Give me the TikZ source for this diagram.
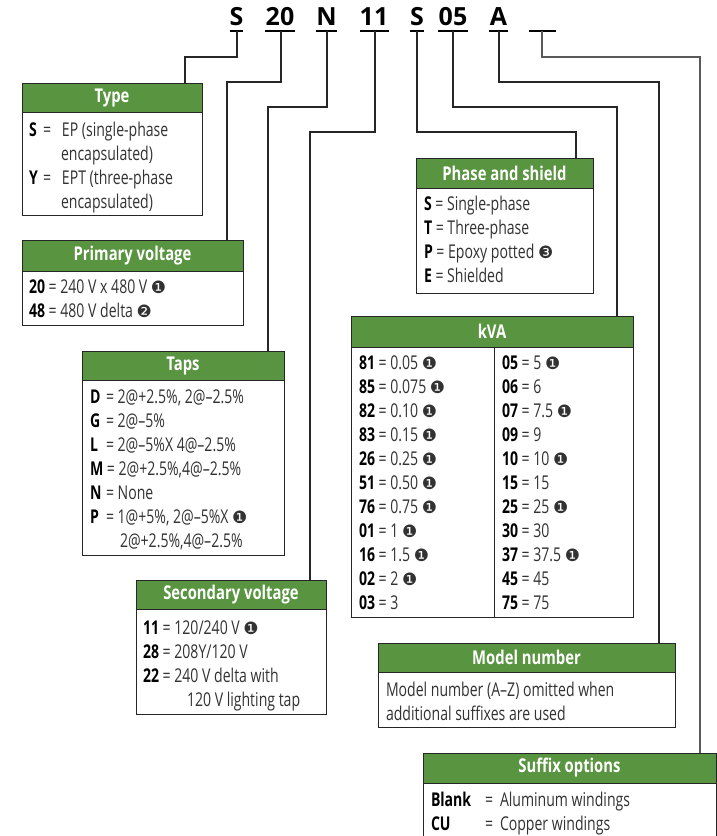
\documentclass[tikz,border=0pt]{standalone}
\usepackage{fontspec}
\setmainfont{Open Sans}[FakeStretch=0.74]
\newfontfamily\headfont{Open Sans}[FakeStretch=0.78]
\newfontfamily\codefont{Open Sans}
\newfontfamily\symfont{DejaVu Sans}
\definecolor{hdr}{RGB}{89,148,64}
\definecolor{txtc}{RGB}{50,50,50}
\newcommand{\nb}[1]{{\symfont\fontsize{17}{17}\selectfont #1}}
\newcommand{\mkbox}[7]{%
  \node[boxbody, minimum width={#4-#2}, minimum height={#6-#3}] (#1) at (#2,#3) {};
  \node[boxhead, minimum width={#4-#2}, minimum height={#5-#3}] (#1h) at (#2,#3) {#7};}
\tikzset{
  boxbody/.style={draw=black!85, line width=1pt, fill=white, anchor=north west, inner sep=0pt, outer sep=0pt},
  boxhead/.style={draw=black!85, line width=1pt, fill=hdr, anchor=north west, inner sep=0pt, outer sep=0pt, text=white, font=\headfont\bfseries\fontsize{19}{22}\selectfont},
  txt/.style={anchor=base west, inner sep=0pt, outer sep=0pt, text=txtc, font=\fontsize{19}{22}\selectfont},
  codetxt/.style={anchor=base, inner sep=0pt, font=\codefont\bfseries\fontsize{25}{30}\selectfont},
  conn/.style={draw=black!85, line width=1.1pt},
  conn2/.style={draw=black!65, line width=1.8pt},
  uline/.style={line width=2pt},
}
\begin{document}
\begin{tikzpicture}[x=1pt,y=-1pt]
\useasboundingbox (0,0) rectangle (717,836);
% code letters
\node[codetxt] (cS) at (236.5,25) {S};
\node[codetxt] (c20) at (280,25) {20};
\node[codetxt] (cN) at (326.5,25) {N};
\node[codetxt] (c11) at (374,25) {11};
\node[codetxt] (cS2) at (417,25) {S};
\node[codetxt] (c05) at (453,25) {05};
\node[codetxt] (cA) at (498.5,25) {A};
% underlines
\draw[uline] (230,31) -- (243,31);
\draw[uline] (265,31) -- (295,31);
\draw[uline] (316,31) -- (337,31);
\draw[uline] (360,31) -- (389,31);
\draw[uline] (410,31) -- (424,31);
\draw[uline] (438,31) -- (468,31);
\draw[uline] (489,31) -- (508,31);
\draw[uline] (529,31) -- (556,31);
\coordinate (u1) at (237,31);
\coordinate (u2) at (281,31);
\coordinate (u3) at (327,31);
\coordinate (u4) at (375,31);
\coordinate (u5) at (417,31);
\coordinate (u6) at (453,31);
\coordinate (u7) at (499,31);
\coordinate (u8) at (542,31);
\coordinate (j1) at (185,57);
\coordinate (j2) at (227,82);
\coordinate (j3) at (268,107);
\coordinate (j4) at (310,132);
\coordinate (j5) at (576,132);
\coordinate (j6) at (617,107);
\coordinate (j7) at (659,82);
\coordinate (j8) at (700,57);
% boxes
\mkbox{type}{22}{83}{202}{112}{215}{Type}
\mkbox{prim}{22}{240}{243}{271}{325}{Primary voltage}
\mkbox{taps}{82}{351}{284}{380}{555}{Taps}
\mkbox{sec}{136}{580}{326}{609}{714}{Secondary voltage}
\mkbox{phase}{416}{158}{593}{188}{293}{Phase and shield}
\mkbox{kva}{351}{316}{633}{347}{617}{kVA}
\mkbox{model}{378}{643}{675}{672}{727}{Model number}
\mkbox{suf}{423}{753}{716}{783}{880}{Suffix options}
\draw[draw=black!85, line width=1pt] (494,347) -- (494,617);
% connectors
\draw[conn] (u1) |- (j1) -- (j1 |- typeh.north);
\draw[conn] (u2) |- (j2) -- (j2 |- primh.north);
\draw[conn] (u3) |- (j3) -- (j3 |- tapsh.north);
\draw[conn] (u4) |- (j4) -- (j4 |- sech.north);
\draw[conn] (u5) |- (j5) -- (j5 |- phaseh.north);
\draw[conn] (u6) |- (j6) -- (j6 |- kvah.north);
\draw[conn] (u7) |- (j7) -- (j7 |- modelh.north);
\draw[conn2] (u8) |- (j8) -- (j8 |- sufh.north);
% Type
\node[txt] (ty1) at (29,136) {\makebox[14pt][l]{\textbf{\color{black}S}}\makebox[19pt][l]{=}EP (single-phase};
\node[txt] (ty2) at (61,160) {encapsulated)};
\node[txt] (ty3) at (29,184) {\makebox[14pt][l]{\textbf{\color{black}Y}}\makebox[19pt][l]{=}EPT (three-phase};
\node[txt] (ty4) at (61,208) {encapsulated)};
% Primary
\node[txt] (pv1) at (29,293) {\textbf{\color{black}20} = 240 V x 480 V \nb{❶}};
\node[txt] (pv2) at (29,317) {\textbf{\color{black}48} = 480 V delta \nb{❷}};
% Taps
\node[txt] (tp1) at (90,403) {\makebox[16pt][l]{\textbf{\color{black}D}}= 2@+2.5\%, 2@–2.5\%};
\node[txt] (tp2) at (90,427) {\makebox[16pt][l]{\textbf{\color{black}G}}= 2@–5\%};
\node[txt] (tp3) at (90,451) {\makebox[16pt][l]{\textbf{\color{black}L}}= 2@–5\%X 4@–2.5\%};
\node[txt] (tp4) at (90,475) {\textbf{\color{black}M} = 2@+2.5\%,4@–2.5\%};
\node[txt] (tp5) at (90,499) {\makebox[16pt][l]{\textbf{\color{black}N}}= None};
\node[txt] (tp6) at (90,523) {\makebox[16pt][l]{\textbf{\color{black}P}}= 1@+5\%, 2@–5\%X \nb{❶}};
\node[txt] (tp7) at (120,547) {2@+2.5\%,4@–2.5\%};
% Secondary
\node[txt] (sv1) at (143,634) {\textbf{\color{black}11} = 120/240 V \nb{❶}};
\node[txt] (sv2) at (143,658) {\textbf{\color{black}28} = 208Y/120 V};
\node[txt] (sv3) at (143,682) {\textbf{\color{black}22} = 240 V delta with};
\node[txt] (sv4) at (187,706) {120 V lighting tap};
% Phase
\node[txt] (ps1) at (424,210) {\textbf{\color{black}S} = Single-phase};
\node[txt] (ps2) at (424,234) {\textbf{\color{black}T} = Three-phase};
\node[txt] (ps3) at (424,258) {\textbf{\color{black}P} = Epoxy potted \nb{❸}};
\node[txt] (ps4) at (424,282) {\textbf{\color{black}E} = Shielded};
% kVA left
\node[txt] (ka1) at (359,369) {\textbf{\color{black}81} = 0.05 \nb{❶}};
\node[txt] (ka2) at (359,393) {\textbf{\color{black}85} = 0.075 \nb{❶}};
\node[txt] (ka3) at (359,417) {\textbf{\color{black}82} = 0.10 \nb{❶}};
\node[txt] (ka4) at (359,441) {\textbf{\color{black}83} = 0.15 \nb{❶}};
\node[txt] (ka5) at (359,465) {\textbf{\color{black}26} = 0.25 \nb{❶}};
\node[txt] (ka6) at (359,489) {\textbf{\color{black}51} = 0.50 \nb{❶}};
\node[txt] (ka7) at (359,513) {\textbf{\color{black}76} = 0.75 \nb{❶}};
\node[txt] (ka8) at (359,537) {\textbf{\color{black}01} = 1 \nb{❶}};
\node[txt] (ka9) at (359,561) {\textbf{\color{black}16} = 1.5 \nb{❶}};
\node[txt] (ka10) at (359,585) {\textbf{\color{black}02} = 2 \nb{❶}};
\node[txt] (ka11) at (359,609) {\textbf{\color{black}03} = 3};
% kVA right
\node[txt] (kb1) at (502,369) {\textbf{\color{black}05} = 5 \nb{❶}};
\node[txt] (kb2) at (502,393) {\textbf{\color{black}06} = 6};
\node[txt] (kb3) at (502,417) {\textbf{\color{black}07} = 7.5 \nb{❶}};
\node[txt] (kb4) at (502,441) {\textbf{\color{black}09} = 9};
\node[txt] (kb5) at (502,465) {\textbf{\color{black}10} = 10 \nb{❶}};
\node[txt] (kb6) at (502,489) {\textbf{\color{black}15} = 15};
\node[txt] (kb7) at (502,513) {\textbf{\color{black}25} = 25 \nb{❶}};
\node[txt] (kb8) at (502,537) {\textbf{\color{black}30} = 30};
\node[txt] (kb9) at (502,561) {\textbf{\color{black}37} = 37.5 \nb{❶}};
\node[txt] (kb10) at (502,585) {\textbf{\color{black}45} = 45};
\node[txt] (kb11) at (502,609) {\textbf{\color{black}75} = 75};
% Model
\node[txt] (mn1) at (386,696) {Model number (A–Z) omitted when};
\node[txt] (mn2) at (386,720) {additional suffixes are used};
% Suffix
\node[txt] (so1) at (431,806) {\makebox[54pt][l]{\textbf{\color{black}Blank}}\makebox[15pt][l]{=}Aluminum windings};
\node[txt] (so2) at (431,830) {\makebox[54pt][l]{\textbf{\color{black}CU}}\makebox[15pt][l]{=}Copper windings};
\end{tikzpicture}
\end{document}
